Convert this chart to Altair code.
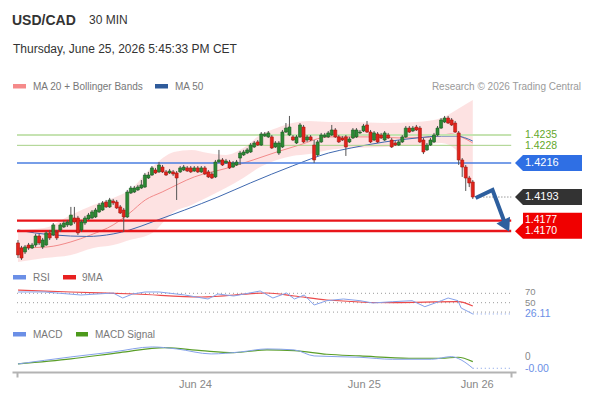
import altair as alt
import pandas as pd

FONT = "Arial"

# ---------------- price candles (USD/CAD, 30 min) ----------------
OPEN = [1.41619, 1.41585, 1.41558, 1.41605, 1.41585, 1.41605, 1.41666, 1.41592, 1.41605, 1.41687,
        1.41673, 1.41693, 1.41707, 1.41727, 1.41741, 1.41741, 1.41788, 1.41788, 1.41707, 1.41754,
        1.41781, 1.41788, 1.41795, 1.41829, 1.41842, 1.41896, 1.41863, 1.41903, 1.41896, 1.41863,
        1.41842, 1.41795, 1.41957, 1.41964, 1.41978, 1.41991, 1.41998, 1.42059, 1.42079, 1.42113,
        1.42100, 1.42133, 1.42100, 1.42093, 1.42100, 1.42093, 1.42100, 1.42113, 1.42127, 1.42127,
        1.42106, 1.42127, 1.42100, 1.42127, 1.42100, 1.42086, 1.42066, 1.42167, 1.42181, 1.42161,
        1.42167, 1.42133, 1.42147, 1.42194, 1.42215, 1.42228, 1.42235, 1.42269, 1.42303, 1.42282,
        1.42343, 1.42337, 1.42337, 1.42269, 1.42228, 1.42269, 1.42370, 1.42350, 1.42337, 1.42296,
        1.42337, 1.42404, 1.42316, 1.42337, 1.42282, 1.42215, 1.42303, 1.42337, 1.42337, 1.42350,
        1.42384, 1.42337, 1.42330, 1.42337, 1.42303, 1.42330, 1.42337, 1.42364, 1.42377, 1.42418,
        1.42370, 1.42316, 1.42357, 1.42350, 1.42316, 1.42350, 1.42316, 1.42296, 1.42282, 1.42303,
        1.42337, 1.42397, 1.42377, 1.42404, 1.42397, 1.42316, 1.42249, 1.42282, 1.42303, 1.42350,
        1.42397, 1.42438, 1.42465, 1.42452, 1.42431, 1.42364, 1.42181, 1.42133, 1.42059, 1.42032]
CLOSE = [1.41538, 1.41517, 1.41592, 1.41585, 1.41605, 1.41666, 1.41619, 1.41639, 1.41687, 1.41653,
         1.41741, 1.41653, 1.41741, 1.41754, 1.41761, 1.41808, 1.41761, 1.41687, 1.41761, 1.41788,
         1.41808, 1.41829, 1.41842, 1.41876, 1.41890, 1.41863, 1.41910, 1.41890, 1.41856, 1.41822,
         1.41795, 1.41964, 1.41991, 1.41991, 1.41998, 1.42012, 1.42079, 1.42079, 1.42127, 1.42093,
         1.42147, 1.42100, 1.42079, 1.42106, 1.42086, 1.42059, 1.42127, 1.42133, 1.42106, 1.42100,
         1.42127, 1.42100, 1.42127, 1.42086, 1.42066, 1.42059, 1.42167, 1.42181, 1.42147, 1.42174,
         1.42127, 1.42161, 1.42167, 1.42228, 1.42235, 1.42249, 1.42282, 1.42296, 1.42282, 1.42357,
         1.42357, 1.42364, 1.42262, 1.42296, 1.42296, 1.42370, 1.42397, 1.42404, 1.42316, 1.42337,
         1.42418, 1.42303, 1.42337, 1.42316, 1.42181, 1.42303, 1.42350, 1.42350, 1.42364, 1.42384,
         1.42337, 1.42303, 1.42316, 1.42269, 1.42323, 1.42384, 1.42384, 1.42370, 1.42411, 1.42370,
         1.42303, 1.42364, 1.42303, 1.42330, 1.42364, 1.42330, 1.42269, 1.42282, 1.42303, 1.42337,
         1.42397, 1.42370, 1.42397, 1.42384, 1.42303, 1.42235, 1.42282, 1.42316, 1.42350, 1.42397,
         1.42452, 1.42465, 1.42431, 1.42418, 1.42370, 1.42181, 1.42133, 1.42059, 1.42025, 1.41930]
HIGH = [1.41639, 1.41599, 1.41605, 1.41619, 1.41619, 1.41680, 1.41680, 1.41653, 1.41700, 1.41707,
        1.41754, 1.41707, 1.41754, 1.41768, 1.41775, 1.41863, 1.41863, 1.41802, 1.41775, 1.41802,
        1.41822, 1.41842, 1.41856, 1.41890, 1.41903, 1.41910, 1.41924, 1.41917, 1.41910, 1.41876,
        1.41856, 1.41978, 1.42005, 1.42005, 1.42012, 1.42045, 1.42093, 1.42100, 1.42140, 1.42127,
        1.42167, 1.42147, 1.42113, 1.42120, 1.42113, 1.42106, 1.42140, 1.42147, 1.42140, 1.42140,
        1.42140, 1.42140, 1.42140, 1.42140, 1.42113, 1.42100, 1.42181, 1.42249, 1.42194, 1.42188,
        1.42181, 1.42174, 1.42181, 1.42242, 1.42249, 1.42262, 1.42296, 1.42309, 1.42316, 1.42370,
        1.42370, 1.42377, 1.42350, 1.42309, 1.42309, 1.42384, 1.42431, 1.42479, 1.42350, 1.42350,
        1.42431, 1.42418, 1.42350, 1.42350, 1.42316, 1.42316, 1.42364, 1.42364, 1.42377, 1.42418,
        1.42397, 1.42350, 1.42343, 1.42350, 1.42337, 1.42397, 1.42397, 1.42384, 1.42425, 1.42445,
        1.42384, 1.42377, 1.42370, 1.42364, 1.42377, 1.42364, 1.42330, 1.42309, 1.42316, 1.42350,
        1.42411, 1.42411, 1.42411, 1.42418, 1.42411, 1.42330, 1.42296, 1.42330, 1.42364, 1.42411,
        1.42465, 1.42479, 1.42479, 1.42465, 1.42445, 1.42377, 1.42194, 1.42147, 1.42073, 1.42045]
LOW = [1.41517, 1.41504, 1.41544, 1.41572, 1.41578, 1.41592, 1.41605, 1.41578, 1.41599, 1.41639,
       1.41666, 1.41639, 1.41693, 1.41720, 1.41727, 1.41734, 1.41748, 1.41673, 1.41693, 1.41741,
       1.41775, 1.41781, 1.41788, 1.41822, 1.41836, 1.41856, 1.41856, 1.41876, 1.41849, 1.41815,
       1.41693, 1.41788, 1.41951, 1.41957, 1.41971, 1.41985, 1.41991, 1.42052, 1.42073, 1.42086,
       1.42093, 1.42093, 1.42073, 1.42086, 1.42073, 1.41910, 1.42093, 1.42106, 1.42100, 1.42093,
       1.42100, 1.42093, 1.42093, 1.42079, 1.42059, 1.42052, 1.42059, 1.42161, 1.42140, 1.42154,
       1.42120, 1.42127, 1.42140, 1.42147, 1.42208, 1.42221, 1.42228, 1.42262, 1.42276, 1.42276,
       1.42337, 1.42330, 1.42255, 1.42262, 1.42215, 1.42262, 1.42364, 1.42343, 1.42309, 1.42289,
       1.42330, 1.42296, 1.42303, 1.42309, 1.42161, 1.42208, 1.42296, 1.42330, 1.42330, 1.42343,
       1.42330, 1.42296, 1.42309, 1.42208, 1.42296, 1.42323, 1.42330, 1.42357, 1.42370, 1.42364,
       1.42296, 1.42309, 1.42296, 1.42323, 1.42309, 1.42323, 1.42262, 1.42276, 1.42276, 1.42296,
       1.42330, 1.42364, 1.42370, 1.42377, 1.42296, 1.42221, 1.42242, 1.42276, 1.42296, 1.42343,
       1.42391, 1.42431, 1.42425, 1.42411, 1.42364, 1.42147, 1.42066, 1.41971, 1.41998, 1.41917]

# ---------------- indicators (read at sample bars) ----------------
MA50_I = [0, 4.7, 10.3, 19.5, 27.0, 31.7, 38.1, 47.3, 56.7, 65.9, 77.8, 88.1, 94.5, 104.0, 113.2, 120.1, 124.3, 129]
MA50_V = [1.41707, 1.41687, 1.41673, 1.41663, 1.41680, 1.41707, 1.41761, 1.41842, 1.41930, 1.42025,
          1.42140, 1.42228, 1.42262, 1.42303, 1.42330, 1.42343, 1.42343, 1.42309]
MA20_I = [0, 8.3, 15.0, 20.6, 27.0, 31.7, 36.1, 40.9, 50.0, 59.5, 66.7, 73.4, 79.8, 88.1, 99.2, 108.4, 117.9, 122.9, 125.7, 129]
MA20_V = [1.41585, 1.41592, 1.41626, 1.41673, 1.41741, 1.41822, 1.41910, 1.41964, 1.42066, 1.42127,
          1.42181, 1.42235, 1.42282, 1.42337, 1.42337, 1.42330, 1.42337, 1.42357, 1.42337, 1.42296]
BB_I = [0, 7.5, 15.0, 21.4, 27.0, 31.7, 38.1, 44.2, 49.2, 53.9, 58.9, 63.9, 68.7, 73.4, 77.8, 82.6,
        88.1, 94.5, 104.0, 113.2, 120.1, 124.3, 127.1, 129.0]
BB_UP = [1.41707, 1.41720, 1.41808, 1.41876, 1.41924, 1.41978, 1.42133, 1.42235, 1.42249, 1.42228,
         1.42215, 1.42262, 1.42350, 1.42397, 1.42431, 1.42445, 1.42438, 1.42438, 1.42431, 1.42438,
         1.42465, 1.42519, 1.42560, 1.42587]
BB_LO = [1.41490, 1.41517, 1.41538, 1.41585, 1.41605, 1.41639, 1.41687, 1.41829, 1.41876, 1.41930,
         1.41991, 1.42059, 1.42133, 1.42181, 1.42208, 1.42221, 1.42249, 1.42262, 1.42269, 1.42282,
         1.42296, 1.42249, 1.42059, 1.41910]

RSI_I = [0, 7.5, 17.8, 27.0, 29.7, 32.5, 36.1, 40.0, 47.3, 53.9, 56.7, 61.2, 68.7, 72.3, 76.2, 78.4,
         81.2, 84.0, 87.6, 92.3, 97.0, 100.6, 106.2, 111.8, 115.4, 120.1, 122.0, 124.8, 125.7, 129]
RSI_V = [72.8, 72.8, 66.4, 70.6, 60.0, 68.5, 72.8, 72.8, 66.4, 57.9, 68.5, 64.3, 74.9, 60.0, 70.6, 57.9,
         66.4, 45.1, 54.3, 57.9, 54.3, 49.4, 52.1, 54.3, 41.5, 54.3, 60.0, 54.3, 38.7, 26.11]
RSI9_I = [0, 15.0, 33.4, 52.0, 70.6, 78.4, 87.6, 106.2, 124.8, 129]
RSI9_V = [77.0, 72.8, 68.5, 62.1, 70.6, 64.3, 55.7, 50.0, 52.1, 43.0]
RSI_LEVELS = [70, 50, 30]
RSI_LAST = 26.11

MACD_I = [0, 15.0, 27.0, 38.1, 45.0, 54.8, 63.1, 70.6, 78.4, 84.0, 97.0, 106.2, 117.3, 122.9, 125.7, 129]
MACD_V = [-0.00017, 0.00004, 0.00019, 0.00034, 0.00028, 0.00013, 0.00019, 0.00028, 0.00025, 0.00007,
          0.00003, -0.00003, -0.00003, 0.00005, -0.00005, -0.00030]
SIG_I = [0, 15.0, 28.9, 41.7, 52.0, 61.2, 70.6, 78.4, 87.6, 97.0, 110.9, 120.1, 124.8, 129]
SIG_V = [-0.00017, -0.00002, 0.00017, 0.00032, 0.00023, 0.00017, 0.00025, 0.00023, 0.00012, 0.00007,
         0.0, 0.0, 0.00003, -0.00010]
MACD_LAST = -0.00030

# ---------------- levels / forecast ----------------
RES_LEVELS = [1.4235, 1.4228]
PIVOT = 1.4216
LAST_PRICE = 1.4193
SUP_LEVELS = [1.4177, 1.4170]
ARROW_I = [129.8, 134.6, 138.2]
ARROW_P = [1.41923, 1.41978, 1.41747]
TICK_DAYS = ["Jun 24", "Jun 25", "Jun 26"]
TICK_POS = [50.2, 98.1, 130.1]

# ---------------- scales ----------------
X_LO, X_HI = -0.278, 139.84
XS = alt.Scale(domain=[X_LO, X_HI], range=[4, 508], nice=False, zero=False)
PS = alt.Scale(domain=[1.4145, 1.4265], range=[259.9, 82.7], nice=False, zero=False)
RS = alt.Scale(domain=[20, 85], range=[308.8, 278.25], nice=False, zero=False)
MS = alt.Scale(domain=[-0.0004, 0.0005], range=[363.6, 333.6], nice=False, zero=False)

label_expr = ("datum.value > 49 && datum.value < 51 ? '%s' : "
              "(datum.value > 97 && datum.value < 99 ? '%s' : "
              "(datum.value > 129 && datum.value < 131 ? '%s' : ''))") % tuple(TICK_DAYS)
XA = alt.Axis(values=[X_LO + 0.01] + TICK_POS + [X_HI - 0.01], labelExpr=label_expr, grid=False,
              title=None, domainColor="#b3b3b3", domainWidth=2, tickColor="#b3b3b3", tickWidth=2,
              tickSize=5,
              tickOpacity={"condition": {"test": "datum.value < 0 || datum.value > 139", "value": 1}, "value": 0},
              labelColor="#888888", labelFontSize=11, labelFont=FONT, labelPadding=1,
              labelOverlap=False, labelFlush=False, labelBound=False)


def X(field):
    return alt.X(field, type="quantitative", scale=XS, axis=XA)


def XD(v):
    return alt.XDatum(v, type="quantitative", scale=XS, axis=XA)


ONE = alt.Data(values=[{"k": 0}])

cdf = pd.DataFrame({"i": list(range(len(OPEN))), "open": OPEN, "high": HIGH, "low": LOW, "close": CLOSE})
cdf["dir"] = ["up" if c >= o else "down" for o, c in zip(OPEN, CLOSE)]
bdf = pd.DataFrame({"i": BB_I, "up": BB_UP, "lo": BB_LO})
m50 = pd.DataFrame({"i": MA50_I, "v": MA50_V})
m20 = pd.DataFrame({"i": MA20_I, "v": MA20_V})
rsi = pd.DataFrame({"i": RSI_I, "v": RSI_V})
rsi9 = pd.DataFrame({"i": RSI9_I, "v": RSI9_V})
macd = pd.DataFrame({"i": MACD_I, "v": MACD_V})
sig = pd.DataFrame({"i": SIG_I, "v": SIG_V})
arrow = pd.DataFrame({"i": ARROW_I, "p": ARROW_P})

layers = []

# Bollinger band, MAs
layers.append(alt.Chart(bdf).mark_area(color="#fde0e0", opacity=0.95, interpolate="monotone").encode(
    x=X("i"), y=alt.Y("up:Q", scale=PS, axis=None), y2="lo:Q"))
layers.append(alt.Chart(m20).mark_line(color="#f28a8a", strokeWidth=1, interpolate="monotone").encode(
    x=X("i"), y=alt.Y("v:Q", scale=PS, axis=None)))
layers.append(alt.Chart(m50).mark_line(color="#3f69b0", strokeWidth=1, interpolate="monotone").encode(
    x=X("i"), y=alt.Y("v:Q", scale=PS, axis=None)))

# level lines
layers.append(alt.Chart(ONE).mark_rule(color="#c6e3b2", strokeWidth=2).encode(
    x=XD(X_LO), x2=alt.X2Datum(139.9), y=alt.YDatum(RES_LEVELS[0], scale=PS, axis=None)))
layers.append(alt.Chart(ONE).mark_rule(color="#a6d186", strokeWidth=1).encode(
    x=XD(X_LO), x2=alt.X2Datum(139.9), y=alt.YDatum(RES_LEVELS[1], scale=PS, axis=None)))
layers.append(alt.Chart(ONE).mark_rule(color="#4a7ee0", strokeWidth=1.6).encode(
    x=XD(X_LO), x2=alt.X2Datum(139.9), y=alt.YDatum(PIVOT, scale=PS, axis=None)))
for lv in SUP_LEVELS:
    layers.append(alt.Chart(ONE).mark_rule(color="#e8161b", strokeWidth=2.4).encode(
        x=XD(X_LO), x2=alt.X2Datum(139.9), y=alt.YDatum(lv, scale=PS, axis=None)))
layers.append(alt.Chart(ONE).mark_rule(color="#666666", strokeWidth=1, strokeDash=[1, 2]).encode(
    x=XD(130.3), x2=alt.X2Datum(139.9), y=alt.YDatum(LAST_PRICE, scale=PS, axis=None)))

# candles
layers.append(alt.Chart(cdf).mark_rule(color="#555555", strokeWidth=1).encode(
    x=X("i"), y=alt.Y("low:Q", scale=PS, axis=None), y2="high:Q"))
layers.append(alt.Chart(cdf).mark_bar(size=3.0, strokeWidth=0.6).encode(
    x=X("i"), y=alt.Y("open:Q", scale=PS, axis=None), y2="close:Q",
    color=alt.Color("dir:N", scale=alt.Scale(domain=["up", "down"], range=["#2c8a35", "#e3231b"]), legend=None),
    stroke=alt.Stroke("dir:N", scale=alt.Scale(domain=["up", "down"], range=["#1b5a22", "#a5150f"]), legend=None)))

# forecast arrow
layers.append(alt.Chart(arrow).mark_line(color="#2d5f9e", strokeWidth=4, strokeJoin="miter").encode(
    x=X("i"), y=alt.Y("p:Q", scale=PS, axis=None), order="i:Q"))
layers.append(alt.Chart(ONE).mark_point(shape="triangle", angle=153, size=230, filled=True,
                                        color="#2d5f9e", opacity=1).encode(
    x=XD(ARROW_I[-1]), y=alt.YDatum(ARROW_P[-1], scale=PS, axis=None)))

# price tags
TAG = "M-1,0L-0.775,-0.225L1,-0.225L1,0.225L-0.775,0.225Z"
RED_TAG = "M-1,0.152L-0.775,-0.073L-0.775,-0.366L1,-0.366L1,0.366L-0.775,0.366Z"
TAG_X = 542.5


def tag(price, color, path):
    return alt.Chart(ONE).mark_point(shape=path, size=5041, filled=True, color=color, opacity=1,
                                     strokeWidth=0).encode(
        x=alt.value(TAG_X), y=alt.YDatum(price, scale=PS, axis=None))


def plabel(price, color, text, scale=PS, size=11, dy=0):
    return alt.Chart(ONE).mark_text(text=text, align="left", baseline="middle", fontSize=size,
                                    font=FONT, color=color, dy=dy).encode(
        x=alt.value(517), y=alt.YDatum(price, scale=scale, axis=None))


layers.append(tag(PIVOT, "#2f6fe4", TAG))
layers.append(tag(LAST_PRICE, "#333333", TAG))
layers.append(tag((SUP_LEVELS[0] + SUP_LEVELS[1]) / 2, "#f00000", RED_TAG))
layers.append(plabel(RES_LEVELS[0], "#63a72b", "%.4f" % RES_LEVELS[0], size=10.5, dy=-0.5))
layers.append(plabel(RES_LEVELS[1], "#63a72b", "%.4f" % RES_LEVELS[1], size=10.5, dy=0.5))
layers.append(plabel(PIVOT, "white", "%.4f" % PIVOT))
layers.append(plabel(LAST_PRICE, "white", "%.4f" % LAST_PRICE))
layers.append(plabel(SUP_LEVELS[0], "white", "%.4f" % SUP_LEVELS[0], size=10.5, dy=-1))
layers.append(plabel(SUP_LEVELS[1], "white", "%.4f" % SUP_LEVELS[1], size=10.5, dy=0.5))

# RSI panel
for lv in RSI_LEVELS:
    layers.append(alt.Chart(ONE).mark_rule(color="#9a9a9a", strokeWidth=1, strokeDash=[1, 3]).encode(
        x=XD(X_LO), x2=alt.X2Datum(X_HI), y=alt.YDatum(lv, scale=RS, axis=None)))
layers.append(alt.Chart(ONE).mark_rule(color="#7d9be6", strokeWidth=1, strokeDash=[1, 3]).encode(
    x=XD(RSI_I[-1]), x2=alt.X2Datum(X_HI), y=alt.YDatum(RSI_LAST, scale=RS, axis=None)))
layers.append(alt.Chart(rsi9).mark_line(color="#ec4a4a", strokeWidth=1.2, interpolate="monotone").encode(
    x=X("i"), y=alt.Y("v:Q", scale=RS, axis=None)))
layers.append(alt.Chart(rsi).mark_line(color="#86a2ea", strokeWidth=1).encode(
    x=X("i"), y=alt.Y("v:Q", scale=RS, axis=None)))
layers.append(plabel(70, "#888888", "70", RS, size=9.5, dy=-1))
layers.append(plabel(50, "#888888", "50", RS, size=9.5, dy=0.5))
layers.append(plabel(RSI_LAST, "#6b8fe6", "%.2f" % RSI_LAST, RS, size=10.5, dy=0.5))

# MACD panel
layers.append(alt.Chart(ONE).mark_rule(color="#7d9be6", strokeWidth=1, strokeDash=[1, 3]).encode(
    x=XD(MACD_I[-1]), x2=alt.X2Datum(X_HI), y=alt.YDatum(MACD_LAST, scale=MS, axis=None)))
layers.append(alt.Chart(sig).mark_line(color="#5a9e28", strokeWidth=1.2, interpolate="monotone").encode(
    x=X("i"), y=alt.Y("v:Q", scale=MS, axis=None)))
layers.append(alt.Chart(macd).mark_line(color="#86a2ea", strokeWidth=1, interpolate="monotone").encode(
    x=X("i"), y=alt.Y("v:Q", scale=MS, axis=None)))
layers.append(plabel(0, "#888888", "0", MS, size=10, dy=-1))
layers.append(plabel(MACD_LAST, "#6b8fe6", "-0.00", MS, size=10.5, dy=0.5))


# ---------------- header / legends ----------------
def txt(s, x, y, size=10, color="#777777", weight="normal", align="left", baseline="middle"):
    return alt.Chart(ONE).mark_text(text=s, align=align, baseline=baseline, fontSize=size, color=color,
                                    fontWeight=weight, font=FONT).encode(x=alt.value(x), y=alt.value(y))


def swatch(x0, x1, y0, y1, color):
    return alt.Chart(ONE).mark_rect(color=color).encode(
        x=alt.value(x0), x2=alt.value(x1), y=alt.value(y0), y2=alt.value(y1))


layers += [
    txt("USD/CAD", 4, 16.5, size=14, color="#333333", weight="bold", baseline="alphabetic"),
    txt("30 MIN", 81, 16, size=12, color="#333333", baseline="alphabetic"),
    txt("Thursday, June 25, 2026 5:45:33 PM CET", 5, 44.7, size=12, color="#333333", baseline="alphabetic"),
    swatch(5, 18, 76, 80.5, "#f58a8a"),
    txt("MA 20 + Bollinger Bands", 25, 78.5),
    swatch(147, 160, 76, 80.5, "#2f5b9b"),
    txt("MA 50", 167, 78.5),
    txt("Research \u00a9 2026 Trading Central", 573, 78.5, color="#9a9a9a", align="right"),
    swatch(5, 18, 267, 271.5, "#6b8fe6"),
    txt("RSI", 25, 269.5),
    swatch(55, 68, 267, 271.5, "#e82020"),
    txt("9MA", 74, 269.5),
    swatch(5, 18, 324, 328.5, "#6b8fe6"),
    txt("MACD", 25, 326.5),
    swatch(68, 80, 324, 328.5, "#4d9a1c"),
    txt("MACD Signal", 87, 326.5),
]

chart = alt.layer(*layers).properties(
    width=574, height=364,
    padding={"left": 0, "top": 0, "right": 0, "bottom": 20},
    autosize=alt.AutoSizeParams(type="none"),
    background="white",
).resolve_scale(y="independent").configure_view(stroke=None)

chart.save("out.html", embed_options={"renderer": "svg", "actions": False})
